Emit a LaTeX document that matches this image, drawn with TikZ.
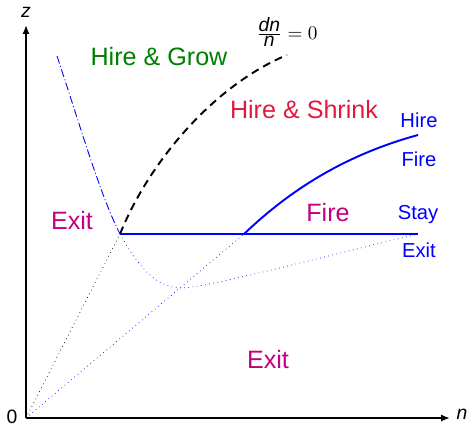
\documentclass[tikz,border=0pt]{standalone}
\usepackage{fontspec}
\setmainfont{Liberation Sans}
\usetikzlibrary{arrows.meta, positioning}
\definecolor{grow-green}{RGB}{0,128,0}
\definecolor{shrink-red}{RGB}{225,25,65}
\definecolor{exit-mag}{RGB}{195,0,130}

\begin{document}
\begin{tikzpicture}[x=0.02cm, y=-0.02cm,
    region/.style={font=\fontsize{14.3}{16}\selectfont},
    act/.style={text=blue, font=\fontsize{11.5}{13}\selectfont},
    lab/.style={font=\fontsize{11}{13}\selectfont},
    axis/.style={-{Latex[length=5pt,width=4pt]}, line width=1.1pt},
    bound/.style={blue, line width=1.1pt},
    guide/.style={dotted, line width=0.4pt}]
  \useasboundingbox (0,0) rectangle (469,426);
  % axes
  \coordinate (o) at (26,418);
  \coordinate (xend) at (450,418);
  \coordinate (yend) at (26,25);
  \draw[axis] (o) -- (xend);
  \draw[axis] (o) -- (yend);
  \node[lab] (zlab) at (26,12) {\textit{z}};
  \node[lab] (nlab) at (462,414) {\textit{n}};
  \node[lab] (olab) at (12,417) {0};
  % kinks
  \coordinate (a) at (120,234);
  \coordinate (b) at (244,234);
  \coordinate (c) at (182,288);
  \coordinate (stay) at (418,234);
  \coordinate (hire) at (418,135);
  \coordinate (top) at (287,55);
  \coordinate (entry) at (57,56);
  % thresholds
  \draw[dash pattern=on 4.5pt off 3pt, line width=1.1pt]
    (a) .. controls (150,160) and (215,85) .. (top);
  \draw[blue, line width=0.5pt, dash pattern=on 4.5pt off 1.5pt on 0.5pt off 1.5pt]
    (entry) .. controls (80,125) and (100,195) .. (a);
  \draw[guide, blue] (a) .. controls (140,270) and (158,288) .. (c)
    .. controls (210,287) and (330,255) .. (stay);
  \draw[guide, blue] (o) -- (b);
  \draw[guide] (o) -- (a);
  \draw[bound] (a) -- (stay);
  \draw[bound] (b) .. controls (290,190) and (345,155) .. (hire);
  % regions
  \node[region, text=grow-green] (grow) at (159,57) {Hire \& Grow};
  \node[region, text=shrink-red] (shrink) at (304,110) {Hire \& Shrink};
  \node[region, text=exit-mag] (exitl) at (72,220) {Exit};
  \node[region, text=exit-mag] (fire) at (328,213) {Fire};
  \node[region, text=exit-mag] (exitb) at (268,359) {Exit};
  \node[lab] (zero) at (287,32) {$\frac{\textit{dn}}{\textit{n}} = 0$};
  % actions
  \node[act] (lhire) at (419,120) {Hire};
  \node[act] (lfire) at (419,159) {Fire};
  \node[act] (lstay) at (418,215) {Stay};
  \node[act] (lexit) at (419,250) {Exit};
\end{tikzpicture}
\end{document}
